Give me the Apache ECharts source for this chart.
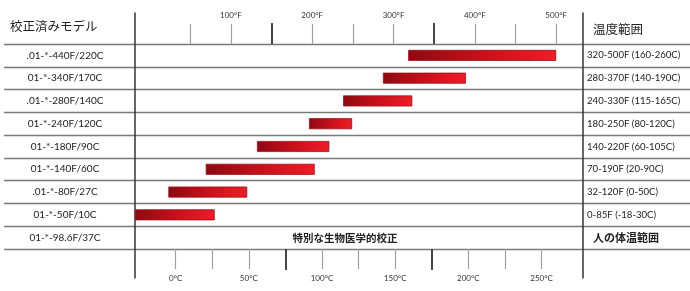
<!DOCTYPE html>
<html><head><meta charset="utf-8">
<script src="https://cdn.jsdelivr.net/npm/echarts@6/dist/echarts.min.js"></script>
<style>html,body{margin:0;padding:0;background:#fff}#c{width:690px;height:291px}</style>
</head><body><div id="c"></div>
<script>
const models = ['.01-*-440F/220C','01-*-340F/170C','.01-*-280F/140C','01-*-240F/120C','01-*-180F/90C','01-*-140F/60C','.01-*-80F/27C','01-*-50F/10C','01-*-98.6F/37C'];
const ranges = ['320-500F (160-260C)','280-370F (140-190C)','240-330F (115-165C)','180-250F (80-120C)','140-220F (60-105C)','70-190F (20-90C)','32-120F (0-50C)','0-85F (-18-30C)','人の体温範囲'];
const barStartF = [318, 287, 238, 196, 132, 69, 23, -18, null];
const barEndF   = [500, 389, 323, 249, 221, 203, 120, 80, null];
const fLabelTicks = [100, 200, 300, 400, 500];
const fMinorTicks = [50, 100, 200, 250, 300, 400, 450, 500];
const fMajorTicks = [150, 350];
const cLabelTicks = [0, 50, 100, 150, 200, 250];
const cMinorTicks = [0, 25, 50, 100, 125, 150, 200, 225, 250];
const cMajorTicks = [75, 175];
const F_MIN = -18, F_MAX = 533;
const headerLeft = '校正済みモデル';
const headerRight = '温度範囲';
const specialNote = '特別な生物医学的校正';

const C_MIN = (F_MIN - 32) / 1.8, C_MAX = (F_MAX - 32) / 1.8;
const lengths = barStartF.map((s, i) => s == null ? null : barEndF[i] - s);
const font = 'Lato, "Noto Sans CJK JP", sans-serif';
const cjk = '"Noto Sans CJK JP", sans-serif';
const G = {left: 135, right: 107, top: 44, bottom: 42};
const noZero = {show: false, onZero: false};

const chart = echarts.init(document.getElementById('c'), null, {renderer: 'canvas'});
chart.setOption({
  animation: false,
  backgroundColor: '#fff',
  grid: [
    Object.assign({}, G),
    Object.assign({}, G),
    Object.assign({}, G),
    {left: 4, right: 0, top: 44, bottom: 42},
    {left: 135, right: 107, top: 13, bottom: 13}
  ],
  xAxis: [
    {gridIndex: 0, type: 'value', min: F_MIN, max: F_MAX, show: false, axisLine: noZero},
    {gridIndex: 1, type: 'value', position: 'top', min: F_MIN, max: F_MAX,
      axisLine: noZero, splitLine: {show: false},
      axisTick: {show: true, customValues: fMinorTicks, length: 20, lineStyle: {color: '#a0a0a0', width: 1.2}},
      axisLabel: {customValues: fLabelTicks, margin: 25, fontSize: 8, color: '#333', fontFamily: font, formatter: v => v + '°F'}},
    {gridIndex: 1, type: 'value', position: 'bottom', min: C_MIN, max: C_MAX,
      axisLine: noZero, splitLine: {show: false},
      axisTick: {show: true, customValues: cMinorTicks, length: 20, lineStyle: {color: '#a0a0a0', width: 1.2}},
      axisLabel: {customValues: cLabelTicks, margin: 25, fontSize: 8, color: '#333', fontFamily: font, formatter: v => v + '°C'}},
    {gridIndex: 2, type: 'value', position: 'top', min: F_MIN, max: F_MAX,
      axisLine: noZero, splitLine: {show: false}, axisLabel: {show: false},
      axisTick: {show: true, customValues: fMajorTicks, length: 21, lineStyle: {color: '#333', width: 1.8}}},
    {gridIndex: 2, type: 'value', position: 'bottom', min: C_MIN, max: C_MAX,
      axisLine: noZero, splitLine: {show: false}, axisLabel: {show: false},
      axisTick: {show: true, customValues: cMajorTicks, length: 21, lineStyle: {color: '#333', width: 1.8}}},
    {gridIndex: 3, type: 'value', min: 0, max: 1, show: false, axisLine: noZero},
    {gridIndex: 4, type: 'value', min: 0, max: 1, show: false, axisLine: noZero}
  ],
  yAxis: [
    {gridIndex: 0, type: 'category', data: models, inverse: true, position: 'left',
      axisLine: noZero, axisTick: {show: false}, splitLine: {show: false},
      axisLabel: {margin: 70, align: 'center', fontSize: 10, color: '#222', fontFamily: font}},
    {gridIndex: 0, type: 'category', data: ranges, inverse: true, position: 'right',
      axisLine: noZero, axisTick: {show: false}, splitLine: {show: false},
      axisLabel: {margin: 4, align: 'left', fontSize: 9.6, color: '#222', fontFamily: font,
        formatter: (v, i) => i === ranges.length - 1 ? '{b|' + v + '}' : v,
        rich: {b: {fontSize: 11, fontWeight: 'bold', fontFamily: cjk, color: '#222', padding: [0, 0, 0, 6]}}}},
    {gridIndex: 1, type: 'value', min: 0, max: 1, show: false, axisLine: noZero},
    {gridIndex: 2, type: 'value', min: 0, max: 1, show: false, axisLine: noZero},
    {gridIndex: 3, type: 'category', data: models, inverse: true,
      axisLine: noZero, axisTick: {show: false}, axisLabel: {show: false},
      splitLine: {show: true, lineStyle: {color: '#7a7a7a', width: 1.3}}},
    {gridIndex: 4, type: 'value', min: 0, max: 1, position: 'left', axisLabel: {show: false}, axisTick: {show: false}, splitLine: {show: false},
      axisLine: {show: true, onZero: false, lineStyle: {color: '#333', width: 1.5}}},
    {gridIndex: 4, type: 'value', min: 0, max: 1, position: 'right', axisLabel: {show: false}, axisTick: {show: false}, splitLine: {show: false},
      axisLine: {show: true, onZero: false, lineStyle: {color: '#333', width: 1.5}}}
  ],
  series: [
    {type: 'bar', xAxisIndex: 0, yAxisIndex: 0, stack: 'r', stackStrategy: 'all', data: barStartF,
      barWidth: 11, itemStyle: {color: 'transparent'}, silent: true},
    {type: 'bar', xAxisIndex: 0, yAxisIndex: 0, stack: 'r', stackStrategy: 'all', data: lengths,
      barWidth: 11,
      itemStyle: {
        color: new echarts.graphic.LinearGradient(0, 0, 1, 0, [
          {offset: 0, color: '#8c0a12'},
          {offset: 0.5, color: '#c8101a'},
          {offset: 1, color: '#f01c26'}
        ]),
        borderColor: '#9e0f17', borderWidth: 0.8
      }}
  ],
  graphic: [
    {type: 'text', left: 10, top: 20, style: {text: headerLeft, fontSize: 12.5, fontFamily: cjk, fill: '#222'}},
    {type: 'text', left: 593, top: 23, style: {text: headerRight, fontSize: 12.5, fontFamily: cjk, fill: '#222'}},
    {type: 'text', x: 345, y: 238, style: {text: specialNote, fontSize: 10.5, fontWeight: 'bold', fontFamily: cjk, fill: '#222', align: 'center', verticalAlign: 'middle'}}
  ]
});
</script></body></html>
